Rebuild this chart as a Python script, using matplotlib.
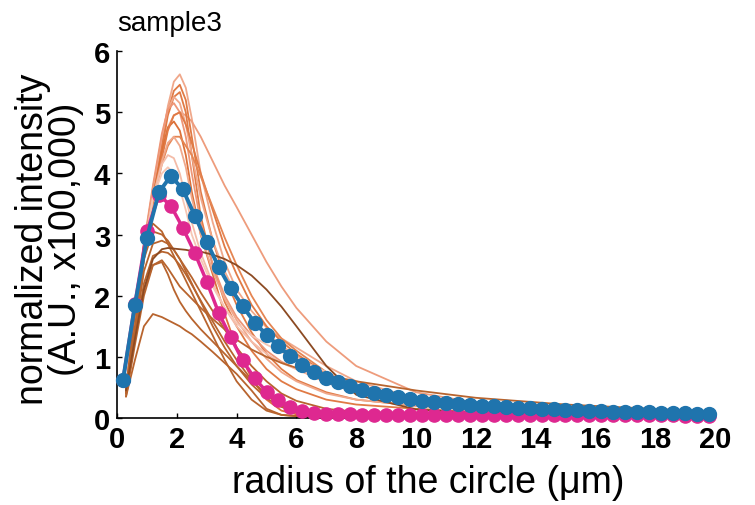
import matplotlib
matplotlib.use("Agg")
import matplotlib.pyplot as plt
from matplotlib import font_manager

# ---- data -------------------------------------------------------------
# radius positions of the averaged profiles (µm)
radius = [0.2 + 0.4 * k for k in range(50)]

mean_blue = [0.62, 1.85, 2.95, 3.69, 3.96, 3.74, 3.31, 2.88, 2.47, 2.12,
             1.83, 1.56, 1.36, 1.17, 1.01, 0.87, 0.76, 0.66, 0.59, 0.52,
             0.46, 0.41, 0.37, 0.34, 0.31, 0.28, 0.26, 0.245, 0.23, 0.215,
             0.20, 0.19, 0.18, 0.17, 0.16, 0.15, 0.14, 0.13, 0.125, 0.12,
             0.11, 0.105, 0.10, 0.095, 0.09, 0.085, 0.08, 0.075, 0.07, 0.065]

mean_magenta = [0.62, 1.87, 3.05, 3.65, 3.47, 3.11, 2.70, 2.23, 1.72, 1.32,
                0.94, 0.65, 0.43, 0.29, 0.18, 0.12, 0.085, 0.07, 0.06, 0.057,
                0.055, 0.054, 0.053, 0.052, 0.051, 0.05, 0.05, 0.049, 0.048, 0.048,
                0.047, 0.047, 0.046, 0.046, 0.045, 0.045, 0.044, 0.044, 0.043, 0.043,
                0.043, 0.042, 0.042, 0.042, 0.041, 0.041, 0.041, 0.04, 0.04, 0.04]

# radius positions of the single-cell profiles (µm)
cell_radius = [0.3, 0.6, 0.9, 1.2, 1.5, 1.7, 1.9, 2.1, 2.3, 2.5, 2.8, 3.2,
               3.6, 4.0, 4.5, 5.0, 5.5, 6.0, 7.0, 8.0, 10, 12, 15, 20]

cell_profiles = [
    # (colour, values)
    ("#F0A88B", [0.5, 1.6, 2.8, 3.75, 4.5, 5.1, 5.5, 5.62, 5.4, 4.9, 4.0, 3.2, 2.55, 2.1, 1.75, 1.48, 1.3, 1.15, 0.85, 0.6, 0.32, 0.2, 0.12, 0.06]),
    ("#EE9C7C", [0.45, 1.5, 2.7, 3.6, 4.3, 4.75, 4.95, 5.0, 4.95, 4.85, 4.6, 4.2, 3.8, 3.45, 3.0, 2.55, 2.15, 1.8, 1.25, 0.85, 0.42, 0.25, 0.14, 0.07]),
    ("#E07A45", [0.45, 1.5, 2.7, 3.65, 4.45, 5.0, 5.35, 5.45, 5.2, 4.6, 3.7, 2.9, 2.3, 1.85, 1.4, 1.05, 0.8, 0.62, 0.42, 0.3, 0.2, 0.14, 0.09, 0.06]),
    ("#E07A45", [0.4, 1.4, 2.6, 3.6, 4.4, 4.95, 5.25, 5.33, 5.0, 4.3, 3.3, 2.5, 1.9, 1.5, 1.1, 0.8, 0.6, 0.47, 0.3, 0.22, 0.15, 0.1, 0.07, 0.05]),
    ("#F0A88B", [0.5, 1.6, 2.8, 3.75, 4.6, 5.05, 5.25, 5.15, 4.8, 4.3, 3.6, 2.9, 2.4, 2.0, 1.65, 1.38, 1.18, 1.02, 0.75, 0.52, 0.28, 0.18, 0.11, 0.06]),
    ("#EE9677", [0.5, 1.65, 2.85, 3.8, 4.65, 5.05, 5.15, 5.0, 4.6, 4.0, 3.2, 2.5, 2.0, 1.65, 1.35, 1.1, 0.92, 0.8, 0.58, 0.42, 0.25, 0.16, 0.1, 0.05]),
    ("#DC7038", [0.45, 1.5, 2.7, 3.6, 4.35, 4.75, 4.85, 4.7, 4.3, 3.7, 3.0, 2.35, 1.7, 1.15, 0.65, 0.3, 0.12, 0.06, 0.03, 0.02, 0.02, 0.01, 0.01, 0.01]),
    ("#E07A45", [0.45, 1.5, 2.7, 3.55, 4.25, 4.7, 4.95, 5.0, 4.8, 4.5, 4.0, 3.4, 2.8, 2.35, 1.85, 1.5, 1.25, 1.05, 0.72, 0.5, 0.28, 0.18, 0.11, 0.06]),
    ("#E58552", [0.45, 1.45, 2.6, 3.5, 4.15, 4.45, 4.6, 4.6, 4.45, 4.3, 3.95, 3.45, 2.95, 2.5, 2.0, 1.6, 1.3, 1.1, 0.75, 0.52, 0.3, 0.19, 0.11, 0.06]),
    ("#F0A88B", [0.5, 1.6, 2.75, 3.6, 4.2, 4.5, 4.6, 4.45, 4.1, 3.6, 3.0, 2.4, 1.95, 1.6, 1.25, 0.97, 0.75, 0.6, 0.4, 0.3, 0.2, 0.14, 0.09, 0.05]),
    ("#F4BCA8", [0.5, 1.6, 2.75, 3.6, 4.15, 4.3, 4.25, 4.0, 3.6, 3.2, 2.7, 2.2, 1.8, 1.5, 1.25, 1.05, 0.9, 0.8, 0.6, 0.44, 0.26, 0.17, 0.1, 0.05]),
    ("#F6C6B4", [0.5, 1.6, 2.75, 3.6, 4.0, 4.1, 4.0, 3.75, 3.4, 3.0, 2.6, 2.15, 1.8, 1.55, 1.35, 1.2, 1.08, 0.98, 0.75, 0.55, 0.3, 0.2, 0.12, 0.06]),
    ("#B8642E", [0.5, 1.7, 2.85, 3.18, 3.05, 2.85, 2.65, 2.45, 2.25, 2.05, 1.75, 1.35, 0.95, 0.6, 0.3, 0.12, 0.05, 0.03, 0.02, 0.02, 0.01, 0.01, 0.01, 0.01]),
    ("#B8642E", [0.45, 1.5, 2.6, 3.05, 3.0, 2.9, 2.75, 2.6, 2.4, 2.2, 1.9, 1.5, 1.15, 0.85, 0.55, 0.32, 0.18, 0.1, 0.05, 0.03, 0.02, 0.02, 0.01, 0.01]),
    ("#B8642E", [0.4, 1.4, 2.4, 2.85, 2.9, 2.85, 2.75, 2.6, 2.45, 2.3, 2.05, 1.75, 1.45, 1.15, 0.85, 0.6, 0.4, 0.28, 0.15, 0.1, 0.06, 0.04, 0.03, 0.02]),
    ("#B8642E", [0.4, 1.3, 2.2, 2.65, 2.72, 2.7, 2.62, 2.5, 2.35, 2.18, 1.92, 1.58, 1.25, 0.95, 0.62, 0.37, 0.2, 0.1, 0.04, 0.02, 0.01, 0.01, 0.01, 0.01]),
    ("#B8642E", [0.35, 1.2, 2.0, 2.5, 2.55, 2.35, 2.1, 1.9, 1.75, 1.62, 1.45, 1.25, 1.05, 0.85, 0.6, 0.38, 0.22, 0.12, 0.05, 0.03, 0.02, 0.01, 0.01, 0.01]),
    ("#B8642E", [0.4, 1.3, 2.1, 2.5, 2.58, 2.45, 2.3, 2.15, 2.05, 1.95, 1.8, 1.62, 1.45, 1.28, 1.12, 1.0, 0.9, 0.82, 0.7, 0.6, 0.45, 0.33, 0.22, 0.1]),
    ("#B8642E", [0.35, 0.95, 1.5, 1.7, 1.65, 1.6, 1.55, 1.5, 1.43, 1.37, 1.25, 1.08, 0.9, 0.72, 0.45, 0.15, 0.05, 0.03, 0.02, 0.02, 0.01, 0.01, 0.01, 0.01]),
    ("#8C4A22", [0.45, 1.3, 2.1, 2.6, 2.76, 2.78, 2.77, 2.76, 2.75, 2.73, 2.72, 2.67, 2.6, 2.5, 2.33, 2.1, 1.82, 1.5, 0.85, 0.38, 0.14, 0.08, 0.05, 0.03]),
]

x_ticks = [0, 2, 4, 6, 8, 10, 12, 14, 16, 18, 20]
y_ticks = [0, 1, 2, 3, 4, 5, 6]

# ---- fonts ------------------------------------------------------------
installed = {f.name for f in font_manager.fontManager.ttflist}
if "Liberation Sans Narrow" in installed:
    tick_font = dict(family="Liberation Sans Narrow", weight="bold", size=23.5)
else:
    tick_font = dict(family="Liberation Sans", weight="bold", size=21)
label_family = "Liberation Sans"

# ---- figure -----------------------------------------------------------
fig = plt.figure(figsize=(7.55, 5.06), dpi=100)
ax = fig.add_axes([0.155, 0.172, 0.792, 0.725])

for colour, values in cell_profiles:
    ax.plot(cell_radius, values, color=colour, lw=1.3, zorder=2,
            solid_joinstyle="round", solid_capstyle="round")

ax.plot(radius, mean_magenta, color="#DE2890", lw=2.5, marker="o",
        markersize=9.5, zorder=4, clip_on=False)
ax.plot(radius, mean_blue, color="#1F74AD", lw=2.8, marker="o",
        markersize=10, zorder=5, clip_on=False)

ax.set_xlim(0, 20)
ax.set_ylim(0, 6)
ax.set_xticks(x_ticks)
ax.set_yticks(y_ticks)
ax.set_xticklabels([str(t) for t in x_ticks], fontdict=tick_font)
ax.set_yticklabels([str(t) for t in y_ticks], fontdict=tick_font)

for side in ("top", "right"):
    ax.spines[side].set_visible(False)
for side in ("left", "bottom"):
    ax.spines[side].set_linewidth(1.2)
ax.tick_params(direction="in", length=3.5, width=1.0, pad=5)

ax.set_xlabel("radius of the circle (μm)", family=label_family, fontsize=27,
              va="center")
ax.xaxis.set_label_coords(0.52, -0.175)
ax.set_ylabel("normalized intensity\n(A.U., x100,000)", family=label_family,
              fontsize=27, va="center", ha="center", linespacing=0.92)
ax.yaxis.set_label_coords(-0.113, 0.49)

ax.set_title("sample3", loc="left", family=label_family, fontsize=20, pad=15)

fig.savefig("out.png", dpi=100)
